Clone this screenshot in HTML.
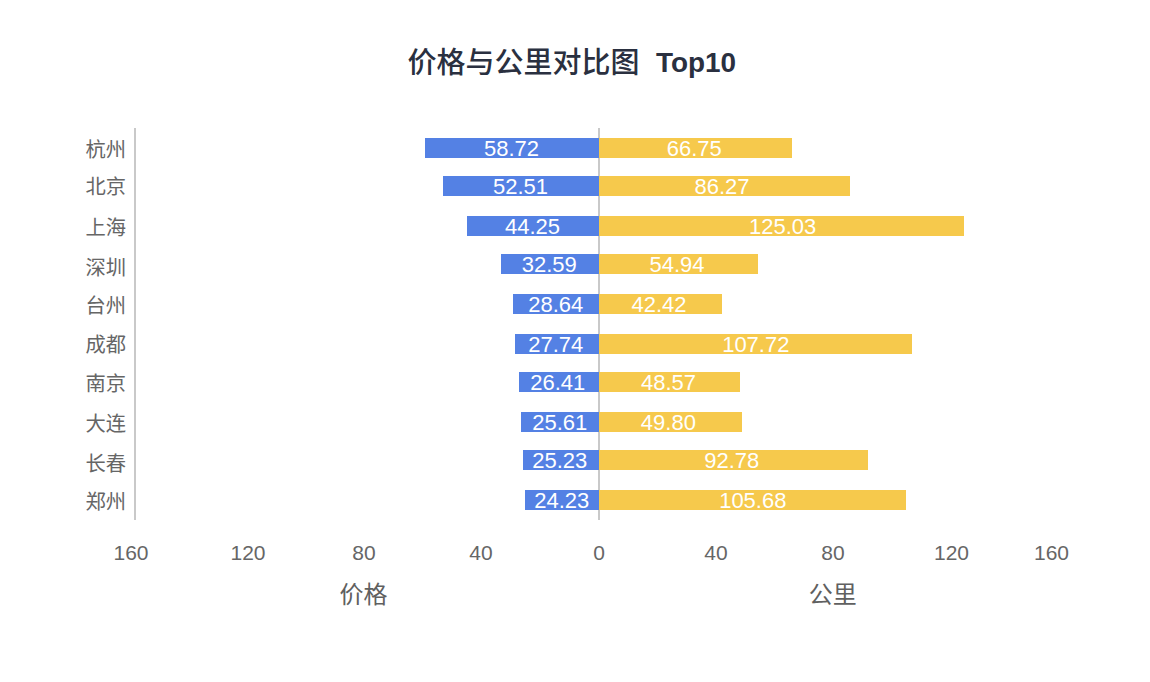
<!DOCTYPE html>
<html lang="zh"><head><meta charset="utf-8"><title>价格与公里对比图 Top10</title>
<style>
html,body{margin:0;padding:0;background:#fff}
body{width:1150px;height:682px;position:relative;overflow:hidden;font-family:"Liberation Sans",sans-serif}
.b{position:absolute;height:20px}
.l{background:#5481e4}
.r{background:#f6c94c}
.ln{position:absolute;background:#c9c9c9}
.sr{position:absolute;left:0;top:0;width:1px;height:1px;margin:-1px;padding:0;overflow:hidden;clip:rect(0 0 0 0);clip-path:inset(50%);white-space:nowrap;border:0;font-size:12px}
svg{position:absolute;left:0;top:0}
svg text{font-family:"Liberation Sans","Noto Sans CJK SC",sans-serif}
</style></head><body>
<div class="ln" style="left:134px;top:128px;width:2px;height:392px"></div>
<div class="ln" style="left:598px;top:128px;width:2px;height:392px"></div>
<div class="b l" style="left:425px;top:138px;width:174px"></div>
<div class="b r" style="left:599px;top:138px;width:193px"></div>
<div class="b l" style="left:443px;top:176px;width:156px"></div>
<div class="b r" style="left:599px;top:176px;width:251px"></div>
<div class="b l" style="left:467px;top:216px;width:132px"></div>
<div class="b r" style="left:599px;top:216px;width:365px"></div>
<div class="b l" style="left:501px;top:254px;width:98px"></div>
<div class="b r" style="left:599px;top:254px;width:159px"></div>
<div class="b l" style="left:513px;top:294px;width:86px"></div>
<div class="b r" style="left:599px;top:294px;width:123px"></div>
<div class="b l" style="left:515px;top:334px;width:84px"></div>
<div class="b r" style="left:599px;top:334px;width:313px"></div>
<div class="b l" style="left:519px;top:372px;width:80px"></div>
<div class="b r" style="left:599px;top:372px;width:141px"></div>
<div class="b l" style="left:521px;top:412px;width:78px"></div>
<div class="b r" style="left:599px;top:412px;width:143px"></div>
<div class="b l" style="left:523px;top:450px;width:76px"></div>
<div class="b r" style="left:599px;top:450px;width:269px"></div>
<div class="b l" style="left:525px;top:490px;width:74px"></div>
<div class="b r" style="left:599px;top:490px;width:307px"></div>
<h1 class="sr">价格与公里对比图 Top10</h1>
<ul class="sr"><li>杭州 价格 58.72 公里 66.75</li><li>北京 价格 52.51 公里 86.27</li><li>上海 价格 44.25 公里 125.03</li><li>深圳 价格 32.59 公里 54.94</li><li>台州 价格 28.64 公里 42.42</li><li>成都 价格 27.74 公里 107.72</li><li>南京 价格 26.41 公里 48.57</li><li>大连 价格 25.61 公里 49.80</li><li>长春 价格 25.23 公里 92.78</li><li>郑州 价格 24.23 公里 105.68</li></ul>
<svg width="1150" height="682" viewBox="0 0 1150 682" role="img" aria-label="价格与公里对比图 Top10">
<text x="85.45" y="156.61" font-size="20.3" fill="#666666">杭州</text>
<text x="484.01" y="155.95" font-size="22" fill="#fff">58.72</text>
<text x="666.66" y="155.95" font-size="22" fill="#fff">66.75</text>
<text x="85.45" y="194.41" font-size="20.3" fill="#666666">北京</text>
<text x="493.01" y="193.95" font-size="22" fill="#fff">52.51</text>
<text x="694.47" y="193.95" font-size="22" fill="#fff">86.27</text>
<text x="85.45" y="234.61" font-size="20.3" fill="#666666">上海</text>
<text x="504.94" y="233.95" font-size="22" fill="#fff">44.25</text>
<text x="748.95" y="233.95" font-size="22" fill="#fff">125.03</text>
<text x="85.45" y="274.51" font-size="20.3" fill="#666666">深圳</text>
<text x="521.74" y="271.95" font-size="22" fill="#fff">32.59</text>
<text x="649.51" y="271.95" font-size="22" fill="#fff">54.94</text>
<text x="85.45" y="312.61" font-size="20.3" fill="#666666">台州</text>
<text x="528.17" y="311.95" font-size="22" fill="#fff">28.64</text>
<text x="631.44" y="311.95" font-size="22" fill="#fff">42.42</text>
<text x="85.45" y="352.41" font-size="20.3" fill="#666666">成都</text>
<text x="528.17" y="351.95" font-size="22" fill="#fff">27.74</text>
<text x="722.15" y="351.95" font-size="22" fill="#fff">107.72</text>
<text x="85.45" y="390.61" font-size="20.3" fill="#666666">南京</text>
<text x="530.17" y="389.95" font-size="22" fill="#fff">26.41</text>
<text x="641.04" y="389.95" font-size="22" fill="#fff">48.57</text>
<text x="85.45" y="431.11" font-size="20.3" fill="#666666">大连</text>
<text x="532.17" y="429.95" font-size="22" fill="#fff">25.61</text>
<text x="640.84" y="429.95" font-size="22" fill="#fff">49.80</text>
<text x="85.45" y="470.51" font-size="20.3" fill="#666666">长春</text>
<text x="532.27" y="467.95" font-size="22" fill="#fff">25.23</text>
<text x="704.20" y="467.95" font-size="22" fill="#fff">92.78</text>
<text x="85.45" y="508.71" font-size="20.3" fill="#666666">郑州</text>
<text x="534.17" y="507.95" font-size="22" fill="#fff">24.23</text>
<text x="719.15" y="507.95" font-size="22" fill="#fff">105.68</text>
<text x="131" y="559.8" font-size="21" fill="#666666" text-anchor="middle">160</text>
<text x="248" y="559.8" font-size="21" fill="#666666" text-anchor="middle">120</text>
<text x="364" y="559.8" font-size="21" fill="#666666" text-anchor="middle">80</text>
<text x="481" y="559.8" font-size="21" fill="#666666" text-anchor="middle">40</text>
<text x="599" y="559.8" font-size="21" fill="#666666" text-anchor="middle">0</text>
<text x="716" y="559.8" font-size="21" fill="#666666" text-anchor="middle">40</text>
<text x="833" y="559.8" font-size="21" fill="#666666" text-anchor="middle">80</text>
<text x="951.5" y="559.8" font-size="21" fill="#666666" text-anchor="middle">120</text>
<text x="1051.5" y="559.8" font-size="21" fill="#666666" text-anchor="middle">160</text>
<text x="339.42" y="602.95" font-size="24" fill="#606060">价格</text>
<text x="808.70" y="602.75" font-size="24" fill="#606060">公里</text>
<text x="407.43" y="73.33" font-size="29" font-weight="500" fill="#2a3040">价格与公里对比图</text>
<text x="656.01" y="71.75" font-size="27.9" font-weight="bold" fill="#2a3040">Top10</text>
</svg>
</body></html>
